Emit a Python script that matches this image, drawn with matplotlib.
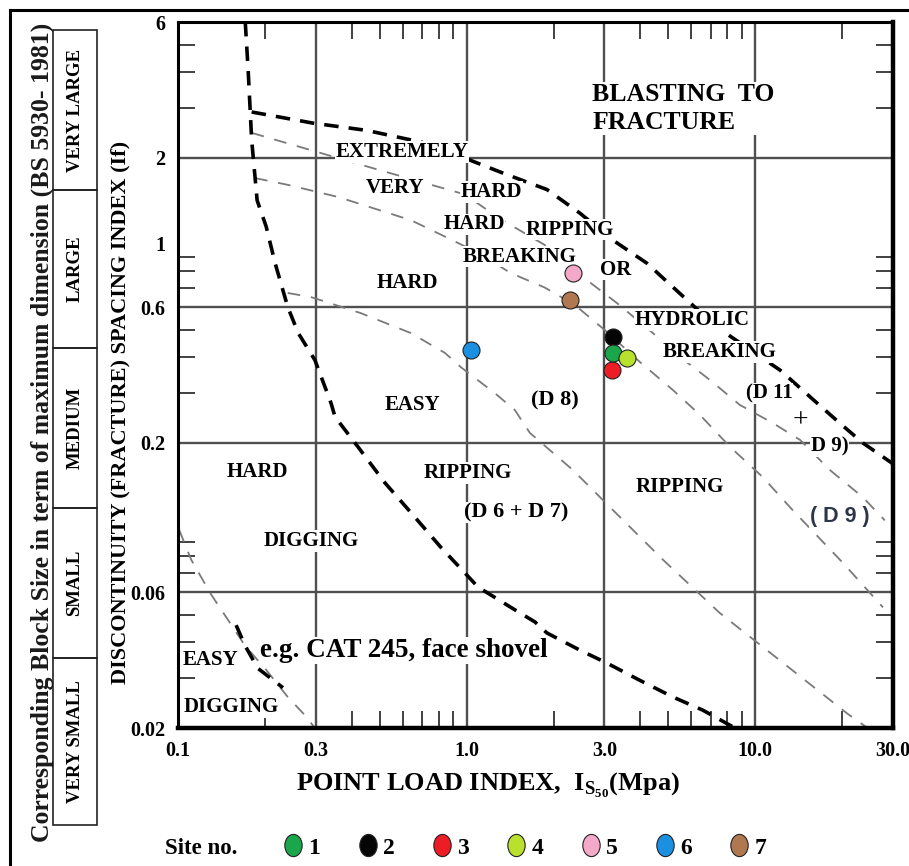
import matplotlib
matplotlib.use('Agg')
import matplotlib.pyplot as plt
import matplotlib.transforms as mtrans
import numpy as np
from matplotlib.lines import Line2D
from matplotlib.patches import Rectangle
from matplotlib.path import Path
from matplotlib.ticker import LogLocator, NullFormatter

plt.rcParams['font.family'] = ['Liberation Serif', 'DejaVu Serif']
plt.rcParams['font.weight'] = 'bold'
plt.rcParams['mathtext.fontset'] = 'custom'
plt.rcParams['mathtext.rm'] = 'Liberation Serif'
plt.rcParams['mathtext.bf'] = 'Liberation Serif:bold'

# ---- boundary curves (point load index, fracture spacing index) ----
# thick dashed: digging / ripping boundary
dig_x = [0.171, 0.175, 0.180, 0.188, 0.202, 0.217, 0.240, 0.261, 0.298, 0.339, 0.350,
         0.420, 0.521, 0.641, 0.815, 0.986, 1.094, 1.423, 1.725, 1.897, 2.47, 3.06,
         3.98, 5.18, 6.58, 8.50]
dig_y = [6.0, 4.07, 2.31, 1.42, 1.15, 0.855, 0.600, 0.486, 0.391, 0.276, 0.247,
         0.194, 0.145, 0.114, 0.086, 0.070, 0.0625, 0.053, 0.0471, 0.0431, 0.0375, 0.0338,
         0.0294, 0.0257, 0.0231, 0.020]
# thick dashed: blasting boundary
blast_x = [0.180, 0.294, 0.450, 0.700, 0.971, 1.336, 1.897, 2.47, 3.21, 4.21, 5.80, 7.36,
           12.2, 15.5, 19.6, 23.6, 30.0]
blast_y = [2.90, 2.65, 2.50, 2.27, 2.01, 1.77, 1.55, 1.28, 1.03, 0.855, 0.635, 0.510,
           0.360, 0.290, 0.235, 0.200, 0.169]
# thick dashed: short face shovel segment
shovel_x = [0.159, 0.171, 0.189, 0.231]
shovel_y = [0.0459, 0.0388, 0.0324, 0.0277]

# thin grey dashed: extremely hard ripping (D11 + D9)
ext_x = [0.180, 0.289, 0.493, 0.986, 1.294, 1.866, 2.53, 3.32, 4.42, 5.48, 6.96,
         8.84, 11.5, 14.3, 18.1, 23.6, 28.1]
ext_y = [2.45, 2.13, 1.82, 1.49, 1.23, 0.99, 0.764, 0.619, 0.486, 0.401, 0.333,
         0.272, 0.235, 0.205, 0.161, 0.129, 0.107]
# thin grey dashed: very hard ripping (D9)
vhard_x = [0.185, 0.240, 0.358, 0.641, 0.841, 1.094, 1.423, 1.866, 2.37, 3.01, 3.98,
           5.18, 6.43, 8.17, 10.6, 13.5, 20.1, 27.7]
vhard_y = [1.70, 1.61, 1.46, 1.21, 1.06, 0.93, 0.789, 0.702, 0.610, 0.498, 0.385,
           0.307, 0.251, 0.194, 0.152, 0.116, 0.076, 0.053]
# thin grey dashed: hard ripping (D8)
hard_x = [0.240, 0.289, 0.430, 0.641, 0.841, 0.955, 1.253, 1.469, 1.656, 2.33, 3.14,
          4.78, 7.54, 12.5, 20.8, 24.5]
hard_y = [0.672, 0.650, 0.571, 0.486, 0.414, 0.369, 0.299, 0.261, 0.217, 0.161, 0.119,
          0.078, 0.0506, 0.0338, 0.0225, 0.020]
# thin grey dashed: easy / hard digging
easy_x = [0.101, 0.111, 0.130, 0.149, 0.171, 0.200, 0.240, 0.275, 0.298]
easy_y = [0.099, 0.078, 0.059, 0.0479, 0.0388, 0.0324, 0.0257, 0.0222, 0.020]

# ---- sites ----
site_no = ['1', '2', '3', '4', '5', '6', '7']
site_x = [3.21, 3.21, 3.18, 3.59, 2.33, 1.035, 2.28]
site_y = [0.414, 0.471, 0.360, 0.397, 0.789, 0.424, 0.635]
site_col = ['#1aa64a', '#050505', '#ee1c24', '#b8e02c', '#f5a9c9', '#1b8fe0', '#b07850']
draw_order = [1, 2, 0, 3, 4, 6, 5]

x_ticks = [0.1, 0.3, 1.0, 3.0, 10.0, 30.0]
x_labels = ['0.1', '0.3', '1.0', '3.0', '10.0', '30.0']
y_ticks = [0.02, 0.06, 0.2, 0.6, 1, 2, 6]
y_labels = ['0.02', '0.06', '0.2', '0.6', '1', '2', '6']
x_grid = [0.3, 1.0, 3.0, 10.0]
y_grid = [0.06, 0.2, 0.6, 2]

block_sizes = ['VERY LARGE', 'LARGE', 'MEDIUM', 'SMALL', 'VERY SMALL']

fig = plt.figure(figsize=(9.09, 8.66), dpi=100)
W, H = 909, 866
ax = fig.add_axes([178 / W, 1 - 728 / H, 715 / W, 706 / H])
ax.set_xscale('log')
ax.set_yscale('log')
ax.set_xlim(0.1, 30)
ax.set_ylim(0.02, 6)

for gx in x_grid:
    ax.axvline(gx, color='#505050', lw=1.7, zorder=1)
for gy in y_grid:
    ax.axhline(gy, color='#505050', lw=1.7, zorder=1)

thick = dict(color='black', lw=2.6, ls=(0, (4, 2.8)), zorder=3)
thin = dict(color='#7a7a7a', lw=1.3, ls=(0, (7, 6)), zorder=2)
ax.plot(dig_x, dig_y, **thick)
ax.plot(blast_x, blast_y, **thick)
ax.plot(shovel_x, shovel_y, **thick)
ax.plot(ext_x, ext_y, **thin)
ax.plot(vhard_x, vhard_y, **thin)
ax.plot(hard_x, hard_y, **thin)
ax.plot(easy_x, easy_y, **thin)

for i in draw_order:
    ax.scatter(site_x[i], site_y[i], s=150, color=site_col[i], edgecolors='#222222',
               linewidths=0.8, zorder=6)

# region labels
def lab(x, y, s, size=15, **kw):
    ax.text(x, y, s, fontsize=size, fontweight='bold', ha='center', va='center',
            zorder=4, bbox=dict(facecolor='white', edgecolor='none', pad=0.5), **kw)

ax.text(2.72, 2.99, 'BLASTING  TO\nFRACTURE', fontsize=18.5, fontweight='bold',
        ha='left', va='center', linespacing=1.3, zorder=4,
        bbox=dict(facecolor='white', edgecolor='none', pad=0.5))
lab(0.597, 2.10, 'EXTREMELY')
lab(0.565, 1.57, 'VERY')
lab(1.22, 1.52, 'HARD')
lab(1.06, 1.17, 'HARD')
lab(2.28, 1.12, 'RIPPING')
lab(1.53, 0.90, 'BREAKING')
lab(3.29, 0.81, 'OR')
lab(0.621, 0.728, 'HARD')
lab(6.03, 0.540, 'HYDROLIC')
lab(7.54, 0.417, 'BREAKING')
lab(11.2, 0.299, '(D 11')
ax.text(14.3, 0.239, '+', fontsize=20, fontweight='normal', ha='center', va='center', zorder=4)
lab(18.1, 0.195, 'D 9)')
lab(0.647, 0.272, 'EASY')
lab(2.02, 0.283, '(D 8)', size=16)
lab(0.188, 0.158, 'HARD')
lab(1.01, 0.157, 'RIPPING')
lab(1.49, 0.114, '(D 6 + D 7)', size=16)
lab(5.48, 0.140, 'RIPPING')
ax.text(19.6, 0.110, '( D 9 )', fontsize=15.5, fontweight='bold', ha='center', va='center',
        color='#2d3548', family=['Liberation Sans', 'DejaVu Sans'], zorder=4,
        bbox=dict(facecolor='white', edgecolor='none', pad=0.5))
lab(0.289, 0.0906, 'DIGGING')
lab(0.607, 0.0375, 'e.g. CAT 245, face shovel', size=19.5)
lab(0.130, 0.0346, 'EASY')
lab(0.153, 0.0237, 'DIGGING')

ax.set_xticks(x_ticks)
ax.set_xticklabels(x_labels)
ax.set_yticks(y_ticks)
ax.set_yticklabels(y_labels)
ax.xaxis.set_minor_locator(LogLocator(base=10, subs=np.arange(2, 10), numticks=20))
ax.yaxis.set_minor_locator(LogLocator(base=10, subs=np.arange(2, 10), numticks=20))
ax.xaxis.set_minor_formatter(NullFormatter())
ax.yaxis.set_minor_formatter(NullFormatter())
ax.tick_params(which='major', length=0, labelsize=14.5, pad=9)
ax.tick_params(which='minor', direction='in', length=12, width=1.3, color='#333333',
               top=True, right=True)
for t in ax.get_xticklabels() + ax.get_yticklabels():
    t.set_fontweight('bold')
ax.spines['left'].set_linewidth(2.2)
ax.spines['top'].set_linewidth(2.2)
ax.spines['bottom'].set_linewidth(3.2)
ax.spines['right'].set_linewidth(3.2)

# axis titles
fig.text(488 / W, 1 - 785 / H, r'POINT LOAD INDEX,  I$_{\mathbf{S}_{\mathbf{50}}}$(Mpa)',
         fontsize=19, fontweight='bold', ha='center', va='center')
fig.text(120 / W, 1 - 412 / H, 'DISCONTINUITY (FRACTURE) SPACING INDEX (If)',
         fontsize=16, fontweight='bold', rotation=90, ha='center', va='center')
fig.text(42 / W, 1 - 432 / H,
         'Corresponding Block Size in term of maximum dimension (BS 5930- 1981)',
         fontsize=18.5, fontweight='bold', rotation=90, ha='center', va='center',
         color='#1a1a1a')

# block size boxes
edges = [30, 190, 348, 508, 658, 825]
for k, name in enumerate(block_sizes):
    y0, y1 = edges[k], edges[k + 1]
    fig.add_artist(Rectangle((53 / W, 1 - y1 / H), 44 / W, (y1 - y0) / H,
                             transform=fig.transFigure, fill=False, lw=1.2,
                             edgecolor='#222222'))
    fig.text(75 / W, 1 - (y0 + y1) / 2 / H, name, fontsize=13.5, fontweight='bold',
             rotation=90, ha='center', va='center')

# outer frame
fig.add_artist(Line2D([10 / W, 10 / W], [0, 1 - 10 / H], transform=fig.transFigure,
                      color='black', lw=2.2))
fig.add_artist(Line2D([10 / W, 1], [1 - 10 / H, 1 - 10 / H], transform=fig.transFigure,
                      color='black', lw=2.2))

# site legend
ell = Path.unit_circle().transformed(mtrans.Affine2D().scale(0.78, 1.0))
handles = [Line2D([], [], marker=ell, ls='none', markersize=16,
                  markerfacecolor=c, markeredgecolor='#222222', markeredgewidth=0.8)
           for c in site_col]
fig.text(165 / W, 1 - 848 / H, 'Site no.', fontsize=16.5, fontweight='bold',
         ha='left', va='center')
fig.legend(handles, site_no, ncol=7, loc='center left',
           bbox_to_anchor=(260 / W, 1 - 848 / H), frameon=False,
           handletextpad=0.15, columnspacing=1.5, handlelength=1.0,
           prop={'size': 17, 'weight': 'bold'})

fig.savefig('out.png', dpi=100, facecolor='white')
